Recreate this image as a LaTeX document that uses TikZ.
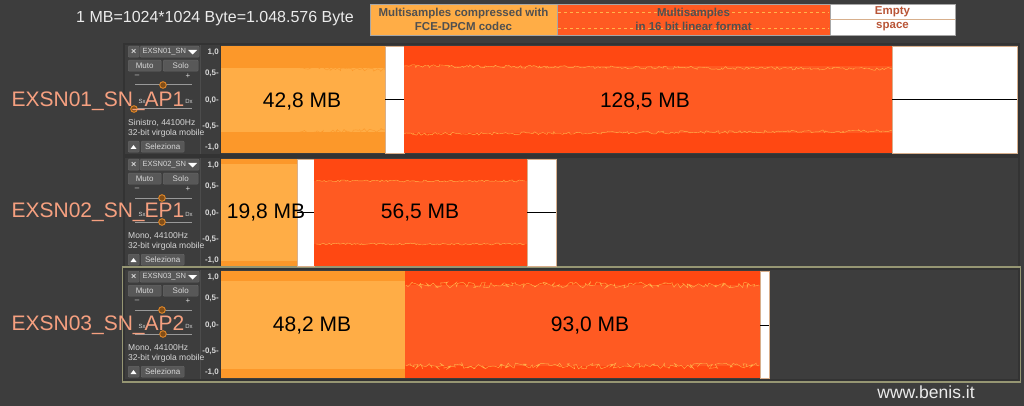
\documentclass[tikz,border=0pt]{standalone}
\usepackage{fontspec}
\setmainfont{Liberation Sans}
\usetikzlibrary{decorations.pathmorphing,positioning}

\definecolor{bgdark}{RGB}{61,61,61}
\definecolor{headtxt}{RGB}{235,235,235}
\definecolor{lightorg}{RGB}{255,173,70}
\definecolor{darkorg}{RGB}{252,152,42}
\definecolor{redin}{RGB}{255,90,34}
\definecolor{redout}{RGB}{255,72,18}
\definecolor{envline}{RGB}{255,180,75}
\definecolor{salmon}{RGB}{246,160,128}
\definecolor{legtxt}{RGB}{80,80,80}
\definecolor{emptytxt}{RGB}{185,85,55}
\definecolor{tan}{RGB}{215,175,140}
\definecolor{olive}{RGB}{150,150,115}
\definecolor{btngray}{RGB}{88,88,88}
\definecolor{paneltxt}{RGB}{215,215,215}
\definecolor{knob}{RGB}{215,130,40}

\tikzset{
  wave/.style={decorate,decoration={random steps,segment length=2pt,amplitude=#1}},
  wave/.default=1.5pt,
  legbox/.style={draw=gray!70,minimum height=31pt,inner sep=0pt,align=center,
    font=\fontsize{11.5}{14}\selectfont\bfseries},
  legtext/.style={font=\fontsize{11.5}{14}\selectfont\bfseries,inner sep=0pt},
  mbtext/.style={font=\fontsize{21}{24}\selectfont,text=black,inner sep=1pt},
  tracklbl/.style={font=\fontsize{21}{24}\selectfont,text=salmon,inner sep=0pt},
  scalelbl/.style={font=\fontsize{8}{9}\selectfont\bfseries,text=paneltxt,anchor=east,inner sep=0pt},
  btnbox/.style={fill=btngray,draw=black!60,rounded corners=1pt,anchor=north west,
    minimum height=11pt,inner sep=0pt,text=paneltxt,font=\fontsize{8}{9}\selectfont},
  paneltext/.style={font=\fontsize{8.5}{9}\selectfont,text=paneltxt,inner sep=0pt,anchor=west},
  tinytext/.style={font=\fontsize{6}{7}\selectfont,text=paneltxt,inner sep=0pt},
  trackframe/.style={draw=black!80,line width=1.2pt},
  slider/.style={draw=gray!80,line width=1pt},
  knobdot/.style={draw=knob,fill=knob!60!black,line width=1pt},
  midline/.style={draw=black,line width=1pt},
  gapfill/.style={fill=white,draw=tan,line width=0.5pt}
}

\begin{document}
\begin{tikzpicture}[x=1pt,y=-1pt]
\pgfmathsetseed{11}
\useasboundingbox[fill=bgdark] (0,0) rectangle (1024,406);

% header and legend
\node[font=\fontsize{16}{18}\selectfont,text=headtxt] (mbdef) at (215,19) {1 MB=1024*1024 Byte=1.048.576 Byte};
\node[legbox,fill=lightorg,minimum width=187pt,text=legtxt] (legcomp) at (463.5,19.5)
  {Multisamples compressed with\\FCE-DPCM codec};
\node[legbox,fill=redin,minimum width=273pt] (leglin) at (693.5,19.5) {};
\draw[envline,dashed,line width=0.6pt] (558,12) -- (829,12) (558,28) -- (829,28);
\node[legtext,text=legtxt,align=center] (leglintxt) at (693.5,19.5)
  {Multisamples\\in 16 bit linear format};
\node[legbox,fill=white,minimum width=125pt] (legempty) at (892.5,19.5) {};
\draw[tan,line width=1pt] (legempty.west) -- (legempty.east);
\node[legtext,text=emptytxt] (legemptyA) at (892.5,11.5) {Empty};
\node[legtext,text=emptytxt] (legemptyB) at (892.5,27) {space};

% track panels
\foreach \y/\n/\info/\gain/\pan in {44/01/Sinistro/163/134,157/02/Mono/162/162,269/03/Mono/162/163}{
  \draw[trackframe] (124,\y) rectangle (1019,\y+111);
  \draw[black!70] (200,\y+1) -- (200,\y+110);
  \draw[black!80] (220,\y+1) -- (220,\y+110);
  \node[btnbox,minimum width=11pt,font=\fontsize{9}{9}\selectfont\bfseries] (cls\n) at (128,\y+2) {×};
  \node[btnbox,minimum width=59pt,anchor=north west,font=\fontsize{7.5}{8}\selectfont,
    text width=54pt,align=left] (nm\n) at (140,\y+2) {EXSN\n\_SN};
  \fill[white] (188,\y+6) -- (197,\y+6) -- (192.5,\y+10.5) -- cycle;
  \node[btnbox,minimum width=33pt] (mut\n) at (128,\y+16) {Muto};
  \node[btnbox,minimum width=35pt] (sol\n) at (163,\y+16) {Solo};
  \node[tinytext,font=\fontsize{8}{8}\selectfont] (minus\n) at (137,\y+32) {--};
  \node[tinytext,font=\fontsize{8}{8}\selectfont] (plus\n) at (188,\y+32) {+};
  \draw[slider] (135,\y+41) -- (192,\y+41);
  \draw[knobdot] (\gain,\y+41) circle (3.3pt);
  \node[tinytext] (sx\n) at (142,\y+57) {Sx};
  \node[tinytext] (dx\n) at (189,\y+57) {Dx};
  \draw[slider] (135,\y+65) -- (192,\y+65);
  \draw[knobdot] (\pan,\y+65) circle (3.3pt);
  \node[paneltext] (inf\n) at (128,\y+79) {\info, 44100Hz};
  \node[paneltext] (bit\n) at (128,\y+89) {32-bit virgola mobile};
  \node[btnbox,minimum width=11pt] (up\n) at (128,\y+97) {};
  \fill[white] (130.5,\y+105) -- (136.5,\y+105) -- (133.5,\y+101) -- cycle;
  \node[btnbox,minimum width=43pt] (sel\n) at (141,\y+97) {Seleziona};
  \foreach \dy/\v in {8/{1,0},29/{0,5-},56/{0,0-},82/{-0,5-},103/{-1,0}}
    \node[scalelbl] (sc\n\dy) at (219,\y+\dy) {\v};
}
\draw[olive,line width=1.5pt] (122.5,267) rectangle (1020.5,382);

% track 1
\fill[darkorg] (221,46) rectangle (385,153);
\fill[lightorg] (221,68) rectangle (385,132);
\draw[darkorg,wave=2pt] (300,68) -- (385,70) (300,132) -- (385,130);
\fill[gapfill] (385,46) rectangle (404,153);
\fill[redout] (404,46) rectangle (892,153);
\fill[redin] (404,66) rectangle (892,133);
\draw[envline,wave] (404,66) -- (892,69) (404,134) -- (892,131);
\fill[gapfill] (892,46) rectangle (1017,153);
\draw[midline] (385,100) -- (404,100) (892,100) -- (1017,100);

% track 2
\fill[darkorg] (221,159) rectangle (297,266);
\fill[lightorg] (221,164) rectangle (297,261);
\fill[gapfill] (297,159) rectangle (314,266);
\fill[redout] (314,159) rectangle (527,266);
\fill[redin] (314,181) rectangle (527,244);
\draw[envline,wave=1pt] (316,181) -- (525,181) (316,244) -- (525,244);
\fill[gapfill] (527,159) rectangle (556,266);
\draw[midline] (297,212) -- (314,212) (527,212) -- (556,212);

% track 3
\fill[darkorg] (221,271) rectangle (405,378);
\fill[lightorg] (221,281) rectangle (405,369);
\fill[redout] (405,271) rectangle (760,378);
\fill[redin] (405,285) rectangle (760,366);
\draw[envline,wave=3pt] (406,285) -- (759,285) (406,366) -- (759,366);
\fill[gapfill] (760,271) rectangle (769,378);
\draw[midline] (760,325) -- (769,325);

% sizes
\node[mbtext] (mbA) at (302,102) {42,8 MB};
\node[mbtext] (mbB) at (645,102) {128,5 MB};
\node[mbtext] (mbC) at (266,213) {19,8 MB};
\node[mbtext] (mbD) at (420,213) {56,5 MB};
\node[mbtext] (mbE) at (312,326) {48,2 MB};
\node[mbtext] (mbF) at (590,326) {93,0 MB};

% track names
\node[tracklbl] (tnA) at (98,101) {EXSN01\_SN\_AP1};
\node[tracklbl] (tnB) at (98,212) {EXSN02\_SN\_EP1};
\node[tracklbl] (tnC) at (98,325) {EXSN03\_SN\_AP2};

\node[font=\fontsize{17.5}{20}\selectfont,text=headtxt] (site) at (926,392) {www.benis.it};
\end{tikzpicture}
\end{document}
